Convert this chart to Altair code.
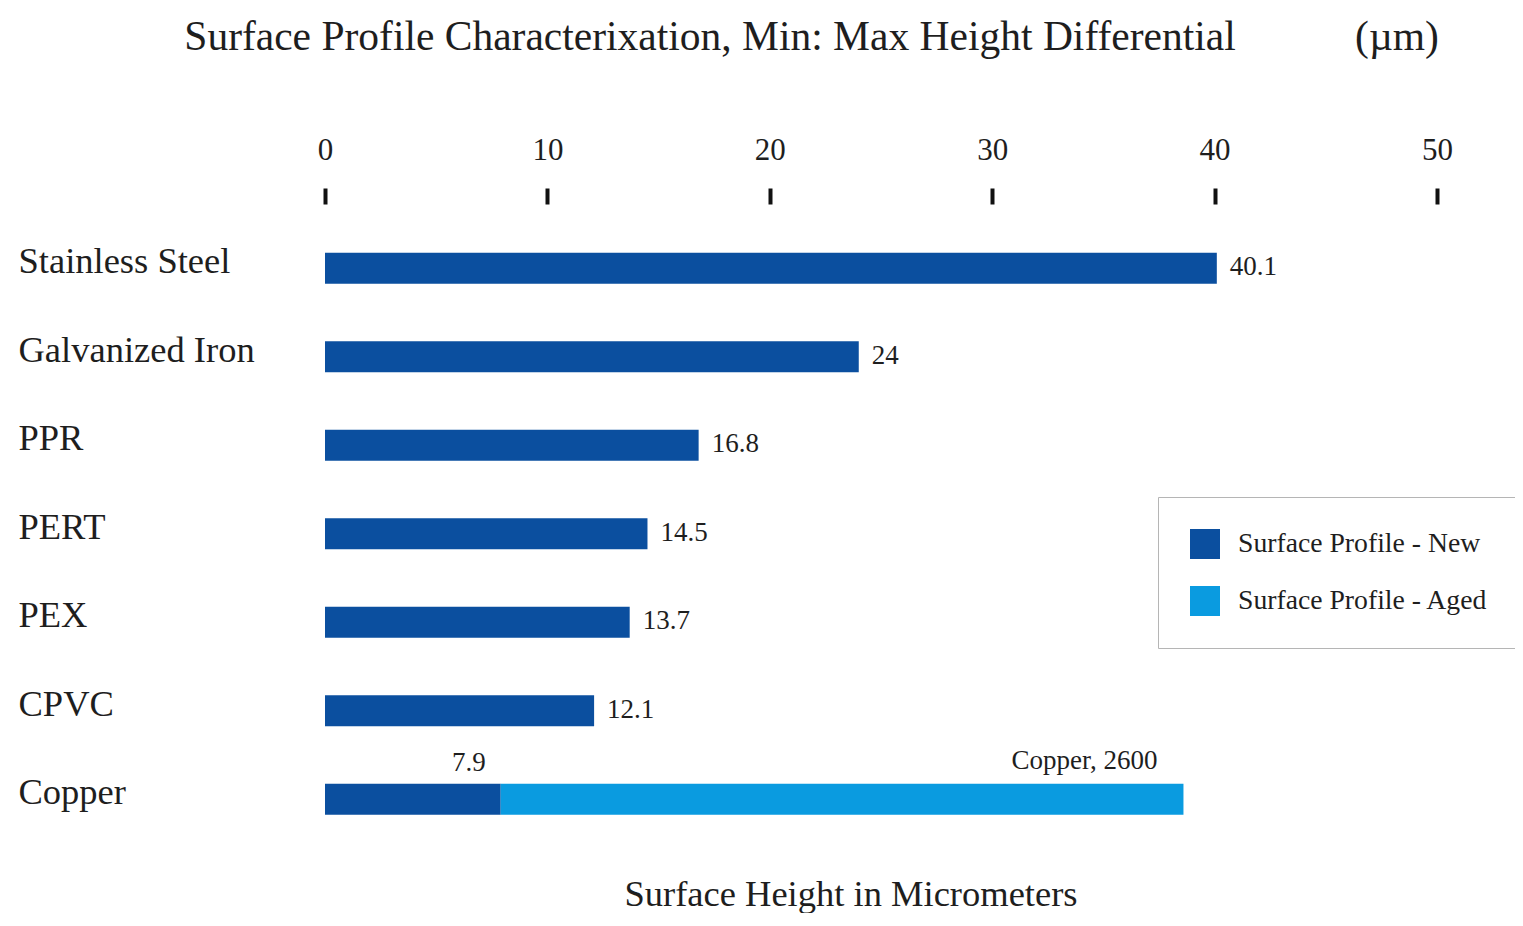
import altair as alt
import pandas as pd

# ---------------- data ----------------
materials = ["Stainless Steel", "Galvanized Iron", "PPR", "PERT", "PEX", "CPVC", "Copper"]
new_values = [40.1, 24, 16.8, 14.5, 13.7, 12.1, 7.9]
aged_materials = ["Copper"]
aged_values = [2600]
aged_drawn_end = [38.6]          # broken-scale end of the aged bar (axis units)
series = ["Surface Profile - New", "Surface Profile - Aged"]
colors = ["#0b4f9f", "#0a9be0"]
x_ticks = [0, 10, 20, 30, 40, 50]

title_text = "Surface Profile Characterixation, Min: Max Height Differential"
unit_text = "(\u00b5m)"
x_title = "Surface Height in Micrometers"

SERIF = "Liberation Serif"
TXT = "#1e1e1e"

# ---------------- tables ----------------
bar_rows = [{"material": m, "series": series[0], "start": 0, "end": v}
            for m, v in zip(materials, new_values)]
for m, e in zip(aged_materials, aged_drawn_end):
    bar_rows.append({"material": m, "series": series[1],
                     "start": new_values[materials.index(m)], "end": e})
bars_df = pd.DataFrame(bar_rows)

side_df = pd.DataFrame([{"material": m, "start": v, "text": f"{v:g}"}
                        for m, v in zip(materials, new_values) if m not in aged_materials])
over_new_df = pd.DataFrame([{"material": m, "start": new_values[materials.index(m)],
                             "text": f"{new_values[materials.index(m)]:g}"}
                            for m in aged_materials])
over_aged_df = pd.DataFrame([{"material": m, "start": e, "text": f"{m}, {v:g}"}
                             for m, v, e in zip(aged_materials, aged_values, aged_drawn_end)])

# ---------------- encodings ----------------
Y = alt.Y("material:N", sort=materials, title=None,
          scale=alt.Scale(paddingInner=0, paddingOuter=0),
          axis=alt.Axis(domain=False, ticks=False, tickSize=0, labelAlign="left",
                        labelBaseline="middle", labelPadding=307, labelOffset=-6,
                        labelFont=SERIF, labelFontSize=36.5, labelColor=TXT, labelLimit=400))
xscale = alt.Scale(domain=[0, 50], nice=False, zero=True)
X = alt.X("start:Q", scale=xscale, title=None,
          axis=alt.Axis(orient="top", values=x_ticks, domain=False, grid=False,
                        tickSize=16, tickWidth=4, tickColor="#111111", offset=20,
                        labelPadding=22, labelFlush=False, labelFont=SERIF, labelFontSize=31,
                        labelColor=TXT, format="d"))

bars = alt.Chart(bars_df).mark_bar(size=31).encode(
    y=Y, x=X, x2="end:Q",
    color=alt.Color("series:N", scale=alt.Scale(domain=series, range=colors),
                    legend=alt.Legend(title=None, orient="none", legendX=833, legendY=273,
                                      padding=32, strokeColor="#b5b5b5", fillColor="white",
                                      symbolType="square", symbolSize=900, symbolStrokeWidth=0,
                                      labelFont=SERIF, labelFontSize=27.7, labelColor=TXT,
                                      labelOffset=18, rowPadding=27, labelLimit=400)),
)

side = alt.Chart(side_df).mark_text(align="left", baseline="middle", dx=13, dy=-1,
                                    font=SERIF, fontSize=27, color=TXT).encode(
    y=Y, x=X, text="text:N")
over_new = alt.Chart(over_new_df).mark_text(align="right", baseline="middle", dx=-15, dy=-36,
                                            font=SERIF, fontSize=27, color=TXT).encode(
    y=Y, x=X, text="text:N")
over_aged = alt.Chart(over_aged_df).mark_text(align="right", baseline="middle", dx=-26, dy=-38,
                                              font=SERIF, fontSize=27, color=TXT).encode(
    y=Y, x=X, text="text:N")

title_mark = alt.Chart(pd.DataFrame({"t": [title_text]})).mark_text(
    align="center", baseline="alphabetic", font=SERIF, fontSize=41.5, color=TXT).encode(
    x=alt.value(385), y=alt.value(-174), text="t:N")
unit_mark = alt.Chart(pd.DataFrame({"t": [unit_text]})).mark_text(
    align="center", baseline="alphabetic", font=SERIF, fontSize=41.5, color=TXT).encode(
    x=alt.value(1072), y=alt.value(-174), text="t:N")
xtitle_mark = alt.Chart(pd.DataFrame({"t": [x_title]})).mark_text(
    align="center", baseline="alphabetic", font=SERIF, fontSize=36.5, color=TXT).encode(
    x=alt.value(526), y=alt.value(682), text="t:N")

chart = alt.layer(bars, side, over_new, over_aged, title_mark, unit_mark, xtitle_mark).properties(
    width=1112, height=619.5,
    autosize=alt.AutoSizeParams(type="none"),
    padding={"left": 317, "top": 216, "right": 78, "bottom": 69},
    background="white",
).configure_view(stroke=None)

chart.save("out.html", embed_options={"renderer": "svg", "actions": False})
